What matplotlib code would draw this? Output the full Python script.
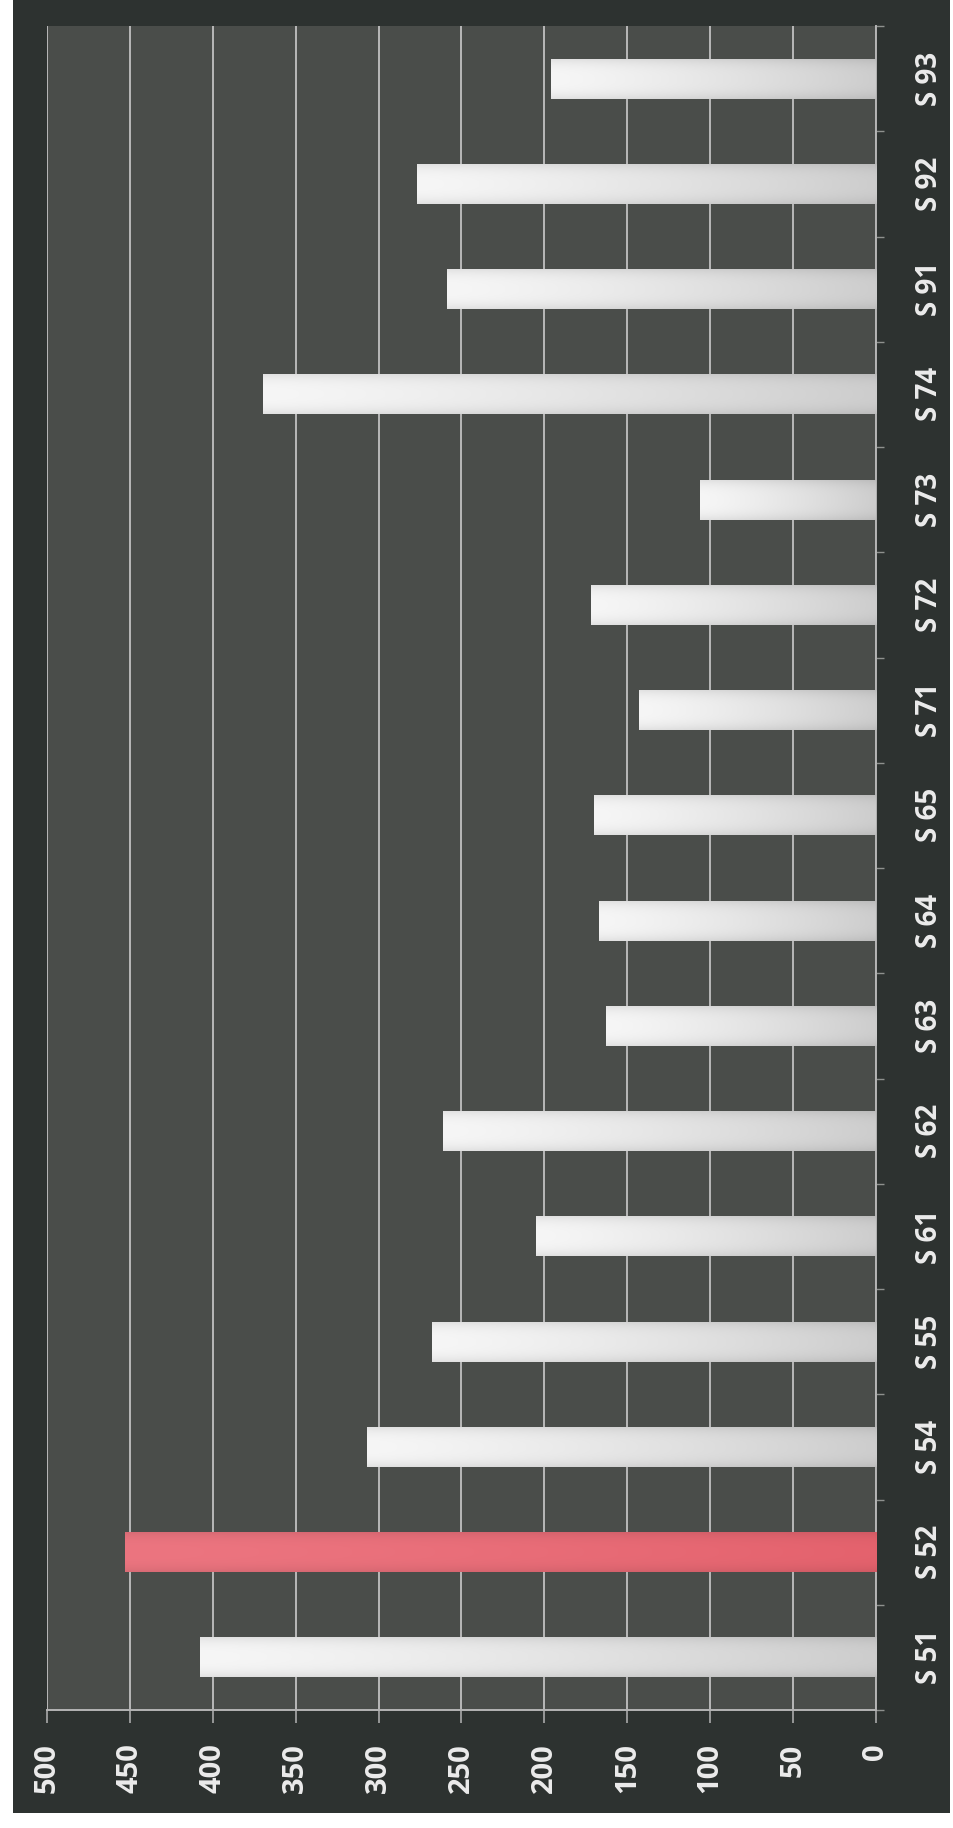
import numpy as np
import matplotlib
matplotlib.use("Agg")
import matplotlib.pyplot as plt
from matplotlib.patches import Rectangle
from matplotlib.colors import to_rgb

plt.rcParams['font.family'] = ['Open Sans', 'DejaVu Sans']

# Data
categories = ["S 51", "S 52", "S 54", "S 55", "S 61", "S 62", "S 63", "S 64",
              "S 65", "S 71", "S 72", "S 73", "S 74", "S 91", "S 92", "S 93"]
values = [408, 453, 307, 268, 205, 261, 163, 167, 170, 143, 172, 106, 370, 259, 277, 196]
highlight = "S 52"
value_ticks = [0, 50, 100, 150, 200, 250, 300, 350, 400, 450, 500]

fig_bg = "#2d3230"
plot_bg = "#4a4d4a"
grid_col = "#d6d6d6"
axis_col = "#b4b4b4"
text_col = "#ececec"

fig = plt.figure(figsize=(9.54, 18.28), dpi=100, facecolor="white")
# dark panel behind the chart
panel = Rectangle((13 / 954, 15 / 1828), 937 / 954, 1813 / 1828,
                  transform=fig.transFigure, facecolor=fig_bg,
                  edgecolor="none", zorder=-10)
fig.add_artist(panel)

ax = fig.add_axes([47 / 954, 118 / 1828, 829 / 954, 1684 / 1828])
ax.set_zorder(5)
ax.set_facecolor(plot_bg)

y = np.arange(len(categories))
bars = ax.barh(y, values, height=0.38, color="none", edgecolor="none", zorder=3)

ax.set_xlim(500, 0)
ax.set_ylim(-0.5, len(categories) - 0.5)


def shaded_bar(patch, base, light):
    x0, y0 = patch.get_x(), patch.get_y()
    w, h = patch.get_width(), patch.get_height()
    n = 256
    t = np.linspace(0, 1, n)  # 0 at value end, 1 at axis
    c_light = np.array(to_rgb(light))
    c_base = np.array(to_rgb(base))
    along = c_light[None, :] * (1 - t[:, None] ** 1.3) + c_base[None, :] * (t[:, None] ** 1.3)
    s = np.linspace(-1, 1, 40)
    across = 1 - 0.08 * np.abs(s) ** 3
    img = across[:, None, None] * along[None, :, :]
    img = np.clip(img, 0, 1)
    im = ax.imshow(img, extent=(x0 + w, x0, y0, y0 + h), origin="lower",
                   aspect="auto", interpolation="bilinear", zorder=3)
    im.set_clip_path(patch)


for patch, cat in zip(bars, categories):
    if cat == highlight:
        shaded_bar(patch, "#e4626d", "#ec7580")
    else:
        shaded_bar(patch, "#cdcdcd", "#f6f6f6")

ax.set_xlim(500, 0)
ax.set_ylim(-0.5, len(categories) - 0.5)

# value axis (bottom)
ax.set_xticks(value_ticks)
ax.set_xticklabels([str(v) for v in value_ticks], rotation=90, color=text_col,
                   fontsize=21, fontweight="bold")
ax.tick_params(axis="x", direction="out", length=9, width=1.1, color=axis_col, pad=15)
ax.grid(axis="x", color=grid_col, linewidth=1.1, zorder=1)
ax.set_axisbelow(True)

# category axis (right)
ax.yaxis.tick_right()
ax.set_yticks(y)
ax.set_yticklabels(categories, rotation=90, color=text_col, fontsize=20,
                   fontweight="bold", va="center")
ax.set_yticks(np.arange(-0.5, len(categories), 1), minor=True)
ax.tick_params(axis="y", which="major", length=0, pad=28)
ax.tick_params(axis="y", which="minor", direction="out", length=6, width=1.0,
               color="#8e918e", right=True, left=False)

for side in ["top", "left"]:
    ax.spines[side].set_visible(False)
ax.spines["bottom"].set_color(axis_col)
ax.spines["bottom"].set_linewidth(1.4)
ax.spines["right"].set_color(axis_col)
ax.spines["right"].set_linewidth(1.4)

fig.savefig("out.png", dpi=100, facecolor=fig.get_facecolor())
